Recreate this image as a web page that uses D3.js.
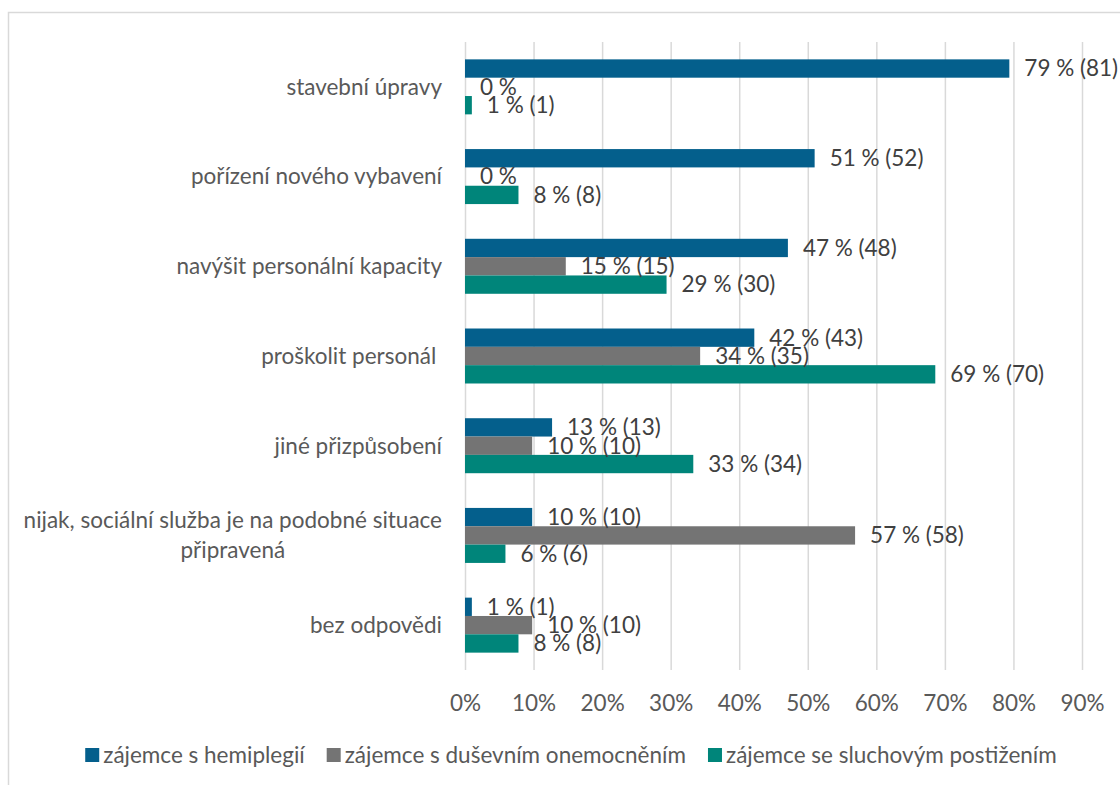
<!DOCTYPE html>
<html>
<head>
<meta charset="utf-8">
<script src="https://cdn.jsdelivr.net/npm/d3@7"></script>
<style>
  body { margin: 0; background: #fff; }
  svg text { font-family: Lato, "Open Sans", sans-serif; }
</style>
</head>
<body>
<div id="chart"></div>
<script>
// DATA
var categories = [
  "stavební úpravy",
  "pořízení nového vybavení",
  "navýšit personální kapacity",
  "proškolit personál\u00a0",
  "jiné přizpůsobení",
  "nijak, sociální služba je na podobné situace připravená",
  "bez odpovědi"
];
var seriesNames = [
  "zájemce s hemiplegií",
  "zájemce s duševním onemocněním",
  "zájemce se sluchovým postižením"
];
var hemiPct = [79.4, 51.0, 47.1, 42.2, 12.7, 9.8, 1.0];
var dusPct = [0, 0, 14.7, 34.3, 9.8, 56.9, 9.8];
var sluchPct = [1.0, 7.8, 29.4, 68.6, 33.3, 5.9, 7.8];
var hemiCount = [81, 52, 48, 43, 13, 10, 1];
var dusCount = [0, 0, 15, 35, 10, 58, 10];
var sluchCount = [1, 8, 30, 70, 34, 6, 8];
var xTicks = [0, 10, 20, 30, 40, 50, 60, 70, 80, 90];

var colors = ["#045f8c", "#747474", "#00857a"];
var fontSize = "22.5px";

var width = 1120, height = 785;
var margin = { top: 42, left: 465, right: 38, bottom: 115 };
var plotW = 1082 - margin.left;
var plotH = 670 - margin.top;

var svg = d3
  .select("#chart")
  .append("svg")
  .attr("width", width)
  .attr("height", height);

// chart border
svg
  .append("rect")
  .attr("x", 8.5)
  .attr("y", 12.5)
  .attr("width", 1140)
  .attr("height", 790)
  .attr("fill", "none")
  .attr("stroke", "#d9d9d9")
  .attr("stroke-width", 1.5);

var g = svg
  .append("g")
  .attr("transform", "translate(" + margin.left + "," + margin.top + ")");

var x = d3.scaleLinear().domain([0, 90]).range([0, plotW]);

var y0 = d3
  .scaleBand()
  .domain(categories)
  .range([0, plotH])
  .paddingInner(0.387)
  .paddingOuter(0.1935);

var y1 = d3
  .scaleBand()
  .domain([0, 1, 2])
  .range([0, y0.bandwidth()]);

// grid + tick labels
var xAxis = d3
  .axisBottom(x)
  .tickValues(xTicks)
  .tickSize(-plotH)
  .tickPadding(25)
  .tickFormat(function (d) {
    return d + "%";
  });

var axisG = g
  .append("g")
  .attr("transform", "translate(0," + plotH + ")")
  .call(xAxis);
axisG.select(".domain").remove();
axisG.selectAll("line").attr("stroke", "#d9d9d9").attr("stroke-width", 1.5);
axisG
  .selectAll("text")
  .attr("fill", "#595959")
  .style("font-size", fontSize);

var pcts = [hemiPct, dusPct, sluchPct];
var counts = [hemiCount, dusCount, sluchCount];

var rows = [];
categories.forEach(function (c, i) {
  for (var s = 0; s < 3; s++) {
    rows.push({ cat: c, s: s, v: pcts[s][i], n: counts[s][i] });
  }
});

g.selectAll("rect.bar")
  .data(rows)
  .enter()
  .append("rect")
  .attr("class", "bar")
  .attr("x", x(0))
  .attr("y", function (d) {
    return y0(d.cat) + y1(d.s);
  })
  .attr("width", function (d) {
    return x(d.v) - x(0);
  })
  .attr("height", y1.bandwidth())
  .attr("fill", function (d) {
    return colors[d.s];
  });

g.selectAll("text.lbl")
  .data(rows)
  .enter()
  .append("text")
  .attr("class", "lbl")
  .attr("x", function (d) {
    return x(d.v) + 15;
  })
  .attr("y", function (d) {
    return y0(d.cat) + y1(d.s) + y1.bandwidth() / 2;
  })
  .attr("dy", "0.35em")
  .attr("fill", "#404040")
  .style("font-size", fontSize)
  .text(function (d) {
    return Math.round(d.v) + " %" + (d.n ? " (" + d.n + ")" : "");
  });

// category labels
var catG = g.append("g");
categories.forEach(function (c) {
  var cy = y0(c) + y0.bandwidth() / 2;
  var t = catG
    .append("text")
    .attr("fill", "#595959")
    .style("font-size", fontSize)
    .attr("text-anchor", "end")
    .attr("x", -23)
    .attr("y", cy)
    .attr("dy", "0.35em")
    .text(c);
  if (t.node().getComputedTextLength() > 430) {
    // wrap into two lines, centred on each other
    var words = c.split(" ");
    var line1 = [], line2 = [];
    var probe = catG.append("text").style("font-size", fontSize);
    words.forEach(function (w) {
      if (line2.length) { line2.push(w); return; }
      probe.text(line1.concat([w]).join(" "));
      if (probe.node().getComputedTextLength() > 430) line2.push(w);
      else line1.push(w);
    });
    probe.text(line1.join(" "));
    var w1 = probe.node().getComputedTextLength();
    probe.remove();
    var cx = -23 - w1 / 2;
    t.text(null).attr("text-anchor", "middle");
    t.append("tspan").attr("x", cx).attr("y", cy - 15).attr("dy", "0.35em").text(line1.join(" "));
    t.append("tspan").attr("x", cx).attr("y", cy + 15).attr("dy", "0.35em").text(line2.join(" "));
  }
});

// legend
var legend = svg.append("g");
var lx = 0;
seriesNames.forEach(function (name, i) {
  var item = legend.append("g").attr("transform", "translate(" + lx + ",0)");
  item
    .append("rect")
    .attr("x", 0)
    .attr("y", -7)
    .attr("width", 14)
    .attr("height", 14)
    .attr("fill", colors[i]);
  var t = item
    .append("text")
    .attr("x", 18)
    .attr("dy", "0.35em")
    .attr("fill", "#595959")
    .style("font-size", fontSize)
    .text(name);
  lx += 18 + t.node().getComputedTextLength() + 22;
});
lx -= 22;
legend.attr("transform", "translate(" + (571 - lx / 2) + ",755)");
</script>
</body>
</html>
